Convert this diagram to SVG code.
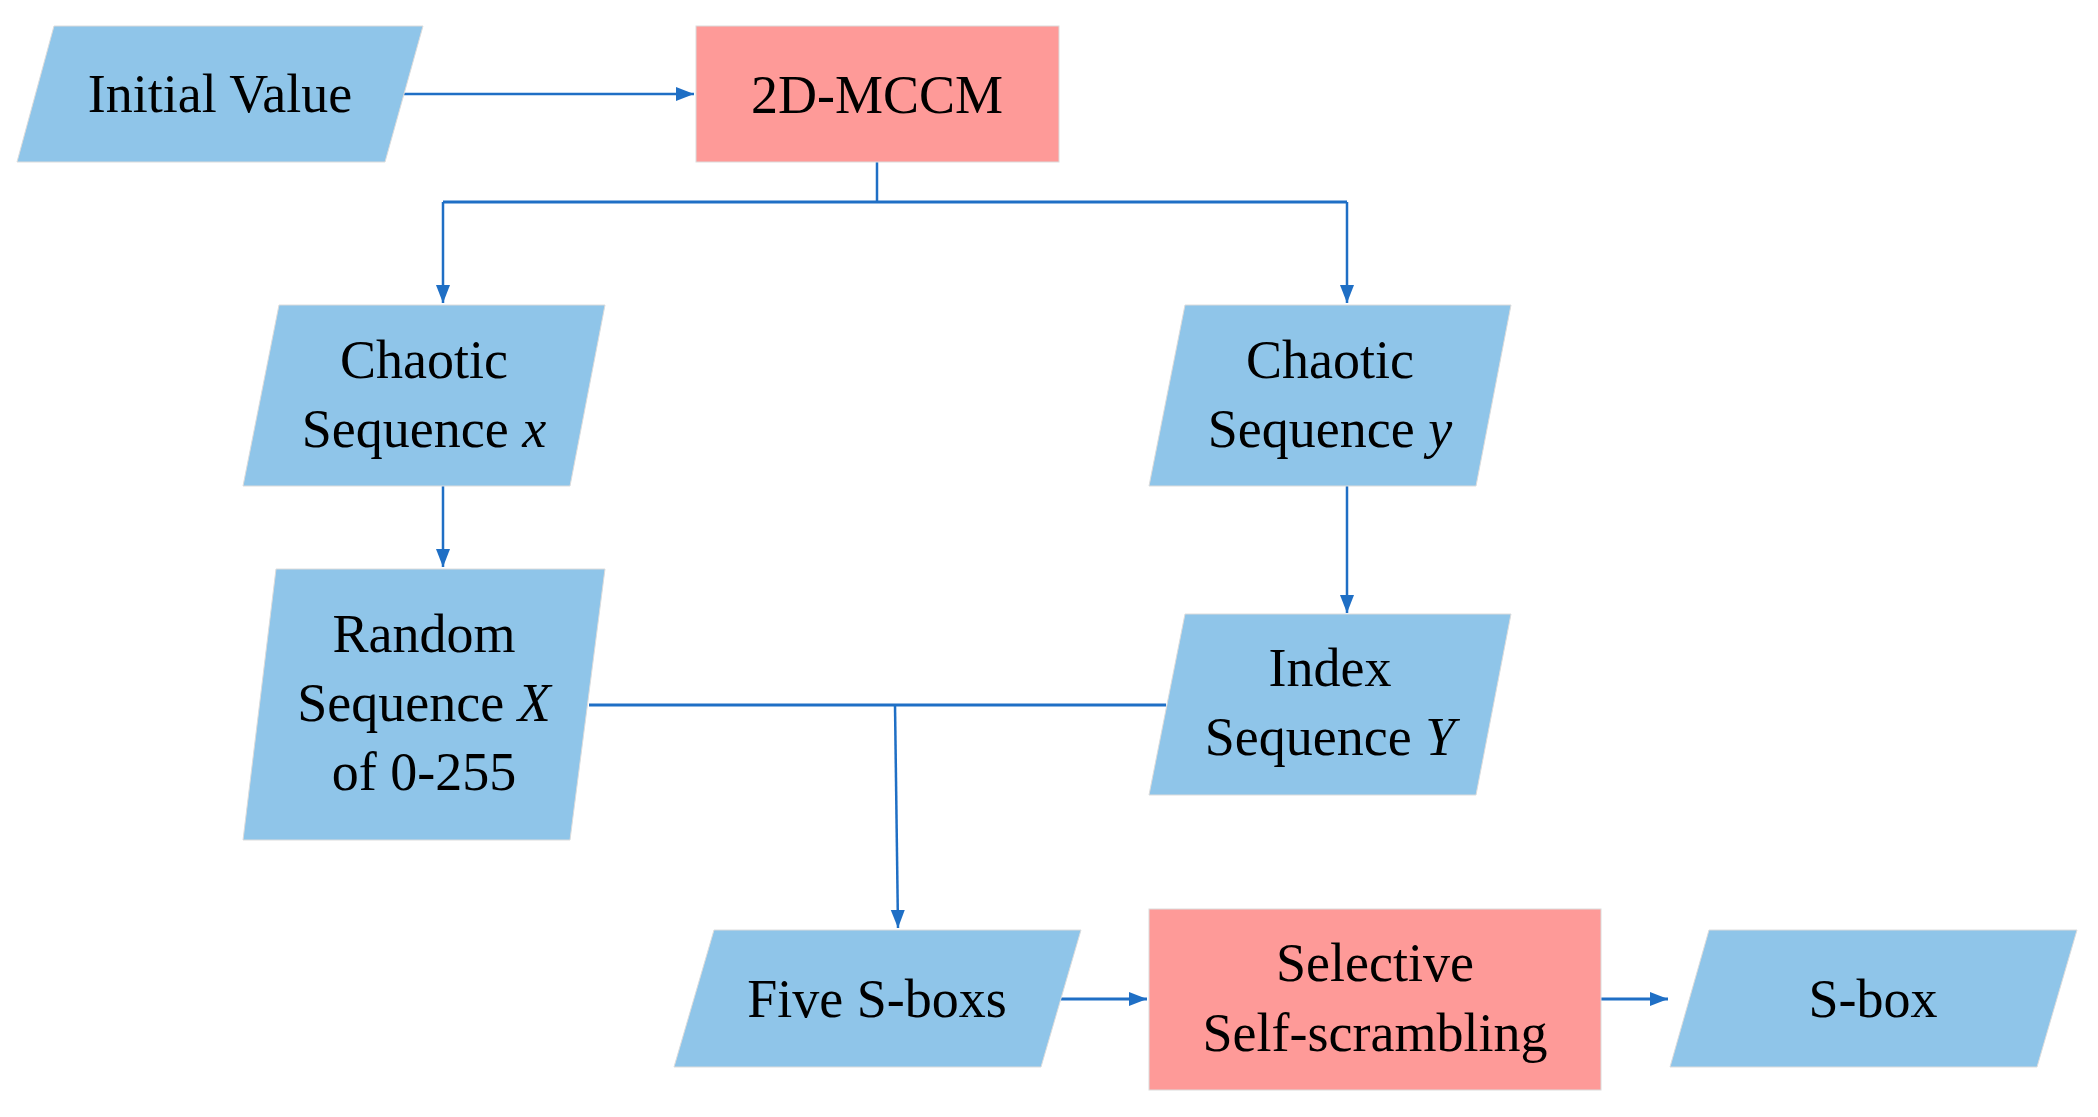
<svg xmlns="http://www.w3.org/2000/svg" width="2098" height="1117" viewBox="0 0 2098 1117">
<style>
.io{fill:#8fc5e9;stroke:#dcdcdc;stroke-width:1}
.pr{fill:#fe9a98;stroke:#dcdcdc;stroke-width:1}
text{font-family:"Liberation Serif","Times New Roman",serif;font-size:54px;fill:#000;text-anchor:middle}
.c{fill:none;stroke:#1f6fc5;stroke-width:2.5}
</style>
<defs>
<marker id="ah" markerUnits="userSpaceOnUse" markerWidth="20" markerHeight="20" viewBox="0 0 20 20" refX="18" refY="10" orient="auto">
<path d="M0,3 L18,10 L0,17 Z" fill="#1f6fc5"/>
</marker>
</defs>
<rect width="2098" height="1117" fill="#fff"/>
<g id="connectors">
<path class="c" d="M403,94 H694" marker-end="url(#ah)"/>
<path class="c" d="M877,162 V202"/>
<path class="c" d="M443,202 H1347" style="stroke-width:3"/>
<path class="c" d="M443,202 V303" marker-end="url(#ah)"/>
<path class="c" d="M1347,202 V303" marker-end="url(#ah)"/>
<path class="c" d="M443,486 V567" marker-end="url(#ah)"/>
<path class="c" d="M1347,486 V613" marker-end="url(#ah)"/>
<path class="c" d="M589,705 H1166" style="stroke-width:3"/>
<path class="c" d="M895,705 L898,928" marker-end="url(#ah)"/>
<path class="c" d="M1060,999 H1147" style="stroke-width:3" marker-end="url(#ah)"/>
<path class="c" d="M1601,999 H1668" style="stroke-width:3" marker-end="url(#ah)"/>
</g>
<g id="initial"><polygon class="io" points="54,26 423,26 385,162 17,162"/><text x="220" y="112">Initial Value</text></g>
<g id="mccm"><rect class="pr" x="696" y="26" width="363" height="136"/><text x="877" y="113">2D-MCCM</text></g>
<g id="chaoticx"><polygon class="io" points="279,305 605,305 570,486 243,486"/><text x="424" y="378">Chaotic</text><text x="424" y="447">Sequence <tspan font-style="italic">x</tspan></text></g>
<g id="chaoticy"><polygon class="io" points="1185,305 1511,305 1476,486 1149,486"/><text x="1330" y="378">Chaotic</text><text x="1330" y="447">Sequence <tspan font-style="italic">y</tspan></text></g>
<g id="randomx"><polygon class="io" points="276,569 605,569 570,840 243,840"/><text x="424" y="652">Random</text><text x="424" y="721">Sequence <tspan font-style="italic">X</tspan></text><text x="424" y="790">of 0-255</text></g>
<g id="indexy"><polygon class="io" points="1185,614 1511,614 1476,795 1149,795"/><text x="1330" y="686">Index</text><text x="1330" y="755">Sequence <tspan font-style="italic">Y</tspan></text></g>
<g id="five"><polygon class="io" points="714,930 1081,930 1041,1067 674,1067"/><text x="877" y="1017">Five S-boxs</text></g>
<g id="selective"><rect class="pr" x="1149" y="909" width="452" height="181"/><text x="1375" y="981">Selective</text><text x="1375" y="1051">Self-scrambling</text></g>
<g id="sbox"><polygon class="io" points="1709,930 2077,930 2037,1067 1670,1067"/><text x="1873" y="1017">S-box</text></g>
</svg>
